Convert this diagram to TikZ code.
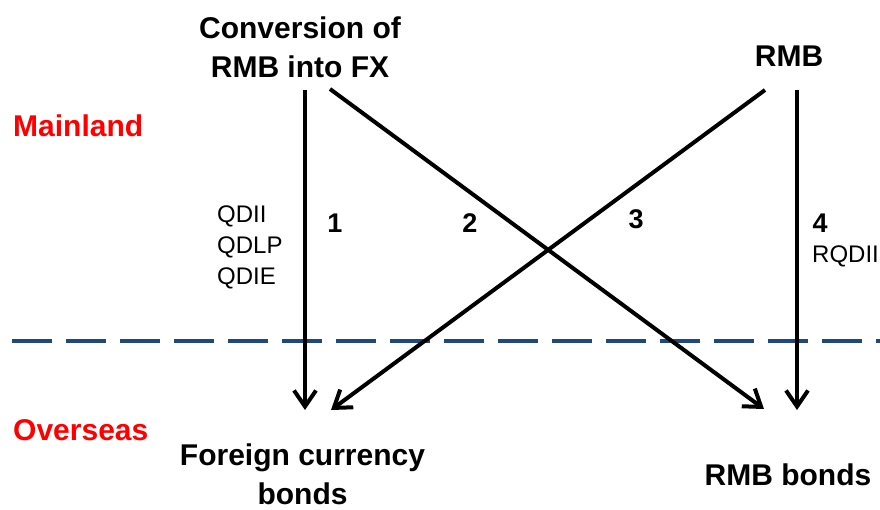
\documentclass[tikz,border=0pt]{standalone}
\usepackage{fontspec}
\setmainfont{Liberation Sans}
\usetikzlibrary{arrows.meta}
\definecolor{borderblue}{RGB}{31,73,125}
\begin{document}
\begin{tikzpicture}[x=1pt,y=-1pt,
  head/.style={font=\fontsize{30}{38.5}\selectfont\bfseries, align=center, inner sep=0pt, anchor=base},
  region/.style={font=\fontsize{30}{38}\selectfont\bfseries, text=red, inner sep=0pt, anchor=base west},
  num/.style={font=\fontsize{27}{34}\selectfont\bfseries, inner sep=0pt, anchor=base},
  prog/.style={font=\fontsize{24}{31}\selectfont, inner sep=0pt, anchor=base west, align=left},
  flow/.style={line width=4pt, -{Straight Barb[length=16pt,width=22pt]}},
  border/.style={line width=4.5pt, draw=borderblue, dash pattern=on 40pt off 14pt}]
\useasboundingbox (0,0) rectangle (880,509);
% texts (multi-line nodes are placed by the baseline of their last line)
\node[head] (conv) at (300,77) {Conversion of\\RMB into FX};
\node[head] (rmb) at (789,66) {RMB};
\node[head] (fcb) at (302.5,504) {Foreign currency\\bonds};
\node[head] (rmbb) at (788,485) {RMB bonds};
\node[region] (main) at (13,136) {Mainland};
\node[region] (over) at (13,440) {Overseas};
\node[num] (n1) at (335,232) {1};
\node[num] (n2) at (470,232) {2};
\node[num] (n3) at (636,228) {3};
\node[num] (n4) at (820,232) {4};
\node[prog] (qd) at (217,284) {QDII\\QDLP\\QDIE};
\node[prog] (rqd) at (812,262) {RQDII};
% border line
\coordinate (dl) at (12,341);
\coordinate (dr) at (880,341);
\draw[border] (dl) -- (dr);
% flows
\coordinate (s1) at (305,90);
\coordinate (e1) at (305,410);
\coordinate (s2) at (330,89);
\coordinate (e2) at (764,409);
\coordinate (s3) at (765,90);
\coordinate (e3) at (331,410);
\coordinate (s4) at (797,90);
\coordinate (e4) at (797,410);
\draw[flow] (s1) -- (e1);
\draw[flow] (s2) -- (e2);
\draw[flow] (s3) -- (e3);
\draw[flow] (s4) -- (e4);
\end{tikzpicture}
\end{document}
